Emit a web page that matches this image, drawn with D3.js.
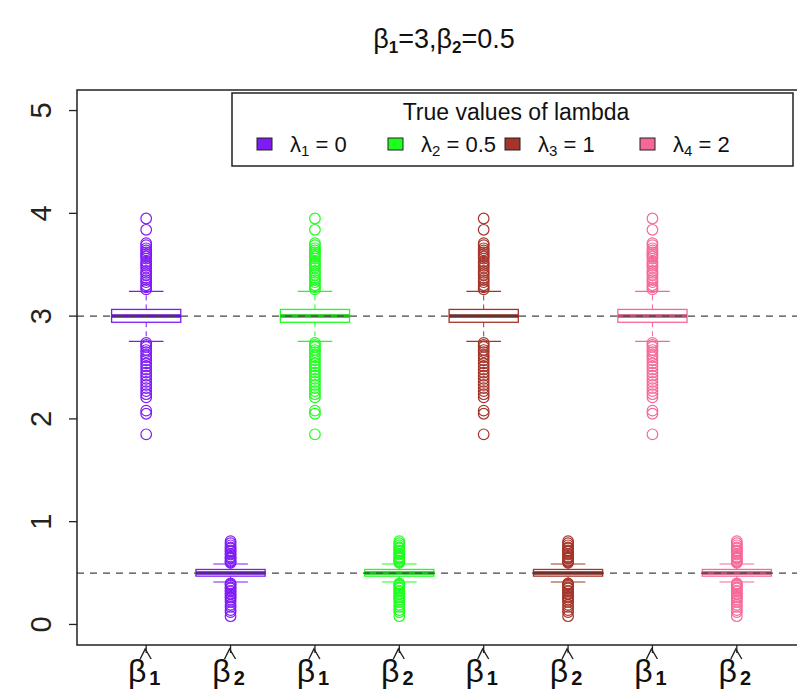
<!DOCTYPE html>
<html>
<head>
<meta charset="utf-8">
<script src="https://cdn.jsdelivr.net/npm/d3@7"></script>
<style>
body { margin:0; background:#fff; }
svg text { font-family: "Liberation Sans", Arial, sans-serif; }
</style>
</head>
<body>
<div id="chart-area"></div>
<script>
const W = 797, H = 695
const MARGIN = {LEFT:77, TOP:90, RIGHT:-9, BOTTOM:50}

// groups (true lambda values) and their colours
const lambdaSubs = ['1','2','3','4']
const lambdaVals = ['0','0.5','1','2']
const groupColors = ['#7f1cf5','#1eff1e','#a5342a','#f7689a']
const paramLabels = ['1','2']   // beta-hat subscripts

// box statistics [lowWhisker, q1, median, q3, highWhisker] for beta1 and beta2
const b1Stats = [2.755, 2.94, 3.0, 3.065, 3.24]
const b2Stats = [0.413, 0.47, 0.50, 0.535, 0.588]
// outliers
const b1Out = [3.26,3.28,3.30,3.33,3.35,3.37,3.40,3.42,3.44,3.47,3.49,3.51,3.53,3.56,3.58,3.60,3.62,3.64,3.66,3.69,3.71,3.84,3.95,
  2.74,2.72,2.70,2.67,2.65,2.62,2.60,2.57,2.54,2.51,2.48,2.45,2.42,2.39,2.36,2.33,2.30,2.27,2.24,2.21,2.08,2.05,1.85]
const b2Out = [0.60,0.61,0.62,0.64,0.65,0.66,0.68,0.69,0.71,0.72,0.74,0.75,0.77,0.79,0.81,
  0.40,0.39,0.38,0.36,0.35,0.33,0.32,0.30,0.29,0.27,0.26,0.24,0.22,0.19,0.17,0.14,0.12,0.08]
const trueBetas = [3, 0.5]
const yTicks = [0,1,2,3,4,5]

const svg = d3.select('#chart-area').append('svg')
  .attr('width', W).attr('height', H)

const x = d3.scaleLinear().domain([0.18, 8.82]).range([MARGIN.LEFT, W + 9])
const y = d3.scaleLinear().domain([-0.2, 5.2]).range([H - MARGIN.BOTTOM, MARGIN.TOP])

// build the 8 boxes
const boxes = []
groupColors.forEach((c, gi) => {
  [b1Stats, b2Stats].forEach((s, pi) => {
    boxes.push({pos: gi*2 + pi + 1, stats: s, out: pi === 0 ? b1Out : b2Out, color: c, sub: paramLabels[pi]})
  })
})

const halfW = (x(1.41) - x(1)), stapleW = halfW/2

const bx = svg.append('g')
boxes.forEach(b => {
  const g = bx.append('g')
  const cx = x(b.pos), s = b.stats
  // whiskers
  g.append('line').attr('x1',cx).attr('x2',cx).attr('y1',y(s[3])).attr('y2',y(s[4]))
    .attr('stroke',b.color).attr('stroke-dasharray','5,4')
  g.append('line').attr('x1',cx).attr('x2',cx).attr('y1',y(s[1])).attr('y2',y(s[0]))
    .attr('stroke',b.color).attr('stroke-dasharray','5,4')
  // staples
  ;[s[0], s[4]].forEach(v => {
    g.append('line').attr('x1',cx-stapleW).attr('x2',cx+stapleW).attr('y1',y(v)).attr('y2',y(v))
      .attr('stroke',b.color).attr('stroke-width',1.2)
  })
  g.append('rect').attr('x',cx-halfW).attr('width',2*halfW)
    .attr('y',y(s[3])).attr('height',y(s[1])-y(s[3]))
    .attr('fill','#fff').attr('stroke',b.color).attr('stroke-width',1.3)
  g.append('line').attr('x1',cx-halfW).attr('x2',cx+halfW).attr('y1',y(s[2])).attr('y2',y(s[2]))
    .attr('stroke',d3.color(b.color).darker(0.8)).attr('stroke-width',3.5)
  g.selectAll('circle').data(b.out).join('circle')
    .attr('cx',cx).attr('cy',d=>y(d)).attr('r',5.3)
    .attr('fill','none').attr('stroke',b.color).attr('stroke-width',1.2)
})

// reference lines at the true values
svg.selectAll('.ref').data(trueBetas).join('line').attr('class','ref')
  .attr('x1',x(0.18)).attr('x2',W).attr('y1',d=>y(d)).attr('y2',d=>y(d))
  .attr('stroke','#444').attr('stroke-width',1.3).attr('stroke-dasharray','7,6')

// plot frame
svg.append('rect').attr('x',x(0.18)).attr('y',y(5.2))
  .attr('width',x(8.82)-x(0.18)).attr('height',y(-0.2)-y(5.2))
  .attr('fill','none').attr('stroke','#222').attr('stroke-width',1.5)

// y axis
const yAxis = svg.append('g')
yAxis.selectAll('line').data(yTicks).join('line')
  .attr('x1',x(0.18)-8).attr('x2',x(0.18)).attr('y1',d=>y(d)).attr('y2',d=>y(d))
  .attr('stroke','#222').attr('stroke-width',1.3)
yAxis.selectAll('text').data(yTicks).join('text')
  .attr('transform',d=>`translate(${x(0.18)-26},${y(d)}) rotate(-90)`)
  .attr('text-anchor','middle').attr('font-size',29).attr('fill','#222')
  .text(d=>d)

// x axis: ticks, hats and beta labels
const xAxis = svg.append('g')
boxes.forEach(b => {
  const cx = x(b.pos), y0 = y(-0.2)
  xAxis.append('line').attr('x1',cx).attr('x2',cx).attr('y1',y0).attr('y2',y0+8)
    .attr('stroke','#222').attr('stroke-width',1.3)
  xAxis.append('path').attr('d',`M${cx-6},${y0+14} L${cx-1},${y0+4} L${cx+5},${y0+14}`)
    .attr('fill','none').attr('stroke','#222').attr('stroke-width',1.4)
  const t = xAxis.append('text').attr('x',cx-2).attr('y',y0+37)
    .attr('text-anchor','middle').attr('fill','#111')
  t.append('tspan').attr('font-size',32).text('β')
  t.append('tspan').attr('font-size',20).attr('font-weight','bold').attr('dx',3).attr('dy',3).text(b.sub)
})

// title
const title = svg.append('text').attr('x',444).attr('y',48).attr('text-anchor','middle')
  .attr('font-size',27).attr('fill','#111')
title.append('tspan').text('β')
title.append('tspan').attr('font-size',17).attr('font-weight','bold').attr('dy',5).text('1')
title.append('tspan').attr('dy',-5).text('=3,β')
title.append('tspan').attr('font-size',17).attr('font-weight','bold').attr('dy',5).text('2')
title.append('tspan').attr('dy',-5).text('=0.5')

// legend
const lg = svg.append('g')
lg.append('rect').attr('x',232).attr('y',93).attr('width',561).attr('height',73)
  .attr('fill','#fff').attr('stroke','#222').attr('stroke-width',1.5)
lg.append('text').attr('x',516).attr('y',120).attr('text-anchor','middle')
  .attr('font-size',23).attr('fill','#111').text('True values of lambda')
const legendX = [257, 388, 505, 640]
lambdaSubs.forEach((sub, i) => {
  const row = lg.append('g').attr('transform',`translate(${legendX[i]},144)`)
  row.append('rect').attr('x',0).attr('y',-6).attr('width',15).attr('height',12)
    .attr('fill',groupColors[i]).attr('stroke','#222').attr('stroke-width',1)
  const t = row.append('text').attr('x',33).attr('y',8).attr('font-size',22).attr('fill','#111')
  t.append('tspan').text('λ')
  t.append('tspan').attr('font-size',15).attr('dy',4).text(sub)
  t.append('tspan').attr('dy',-4).text(' = ' + lambdaVals[i])
})
</script>
</body>
</html>
